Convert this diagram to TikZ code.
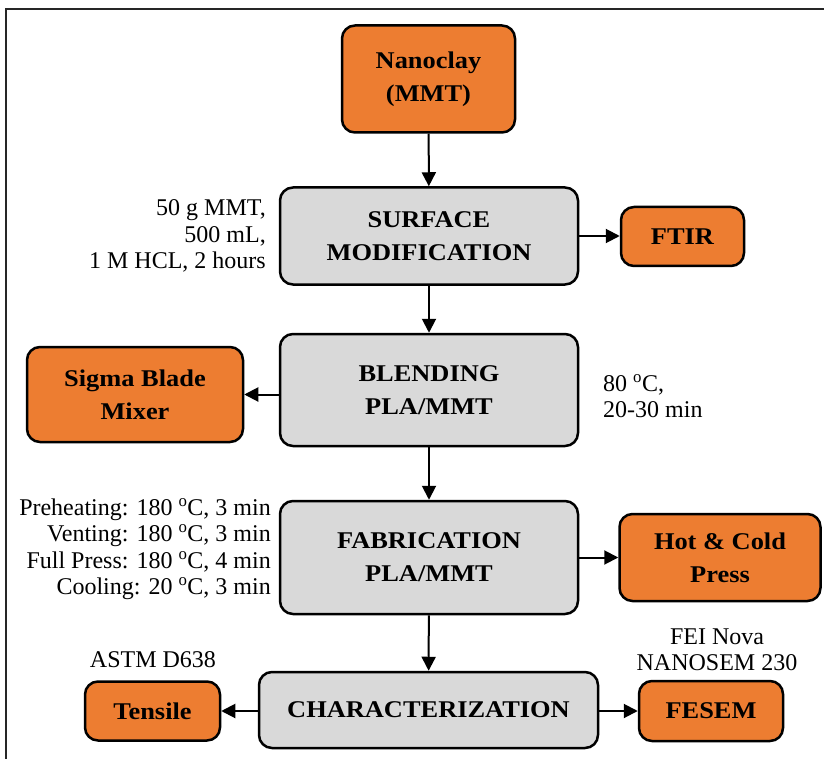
\documentclass[tikz,border=0pt]{standalone}
\usepackage{fontspec}
\setmainfont{Liberation Serif}
\newfontfamily\boxfont[FakeStretch=1.1]{Liberation Serif}
\usetikzlibrary{arrows.meta}
\definecolor{orangebox}{HTML}{ED7D31}
\definecolor{graybox}{HTML}{D9D9D9}
\tikzset{
  basebox/.style={draw=black, line width=2.5pt, rounded corners=13pt, inner sep=0pt,
    align=center, font=\boxfont\bfseries\fontsize{24}{33}\selectfont},
  orangebox/.style={basebox, fill=orangebox},
  graybox/.style={basebox, fill=graybox},
  lbl/.style={inner sep=0pt, font=\fontsize{24}{26.5}\selectfont},
  arr/.style={line width=2pt, -{Triangle[length=14pt,width=14pt]}}
}
\begin{document}
\begin{tikzpicture}[x=1pt,y=-1pt]
\useasboundingbox (0,0) rectangle (824,759);
\draw[line width=1.6pt, draw=black!85] (826,9) -- (6,9) -- (6,765);

\node[orangebox, minimum width=173pt, minimum height=107pt] (nano) at (428.5,79) {Nanoclay\\(MMT)};
\node[graybox, minimum width=298pt, minimum height=97pt] (surf) at (429,236) {SURFACE\\MODIFICATION};
\node[orangebox, minimum width=123pt, minimum height=59pt] (ftir) at (682.5,236.5) {FTIR};
\node[graybox, minimum width=298pt, minimum height=112pt] (blend) at (429,390) {BLENDING\\PLA/MMT};
\node[orangebox, minimum width=216pt, minimum height=95pt] (sigma) at (135,394.5) {Sigma Blade\\Mixer};
\node[graybox, minimum width=298pt, minimum height=113pt] (fab) at (429,557.5) {FABRICATION\\PLA/MMT};
\node[orangebox, minimum width=201pt, minimum height=87pt] (press) at (720,557.5) {Hot \& Cold\\Press};
\node[graybox, minimum width=339pt, minimum height=76pt] (char) at (428.5,710) {CHARACTERIZATION};
\node[orangebox, minimum width=135pt, minimum height=59pt] (tens) at (152.5,711) {Tensile};
\node[orangebox, minimum width=144pt, minimum height=60pt] (fesem) at (711,711) {FESEM};

\node[lbl, anchor=east, align=right] (l1) at (266,236) {50 g MMT,\\500 mL,\\1 M HCL, 2 hours};
\node[lbl, anchor=west, align=left] (l2) at (603,396) {80 \textsuperscript{o}C,\\20-30 min};
\node[lbl, anchor=east, align=right] (l3) at (271,549) {Preheating: 180 \textsuperscript{o}C, 3 min\\Venting: 180 \textsuperscript{o}C, 3 min\\Full Press: 180 \textsuperscript{o}C, 4 min\\Cooling: 20 \textsuperscript{o}C, 3 min};
\node[lbl] (l4) at (153,660) {ASTM D638};
\node[lbl, align=center] (l5) at (717,650) {FEI Nova\\NANOSEM 230};

\draw[arr] (nano) -- (surf);
\draw[arr] (surf) -- (blend);
\draw[arr] (blend) -- (fab);
\draw[arr] (fab) -- (char);
\draw[arr] (surf.east) -- (surf.east -| ftir.west);
\draw[arr] (sigma.east -| blend.west) -- (sigma.east);
\draw[arr] (fab.east) -- (fab.east -| press.west);
\draw[arr] (tens.east -| char.west) -- (tens.east);
\draw[arr] (fesem.west -| char.east) -- (fesem.west);
\end{tikzpicture}
\end{document}
